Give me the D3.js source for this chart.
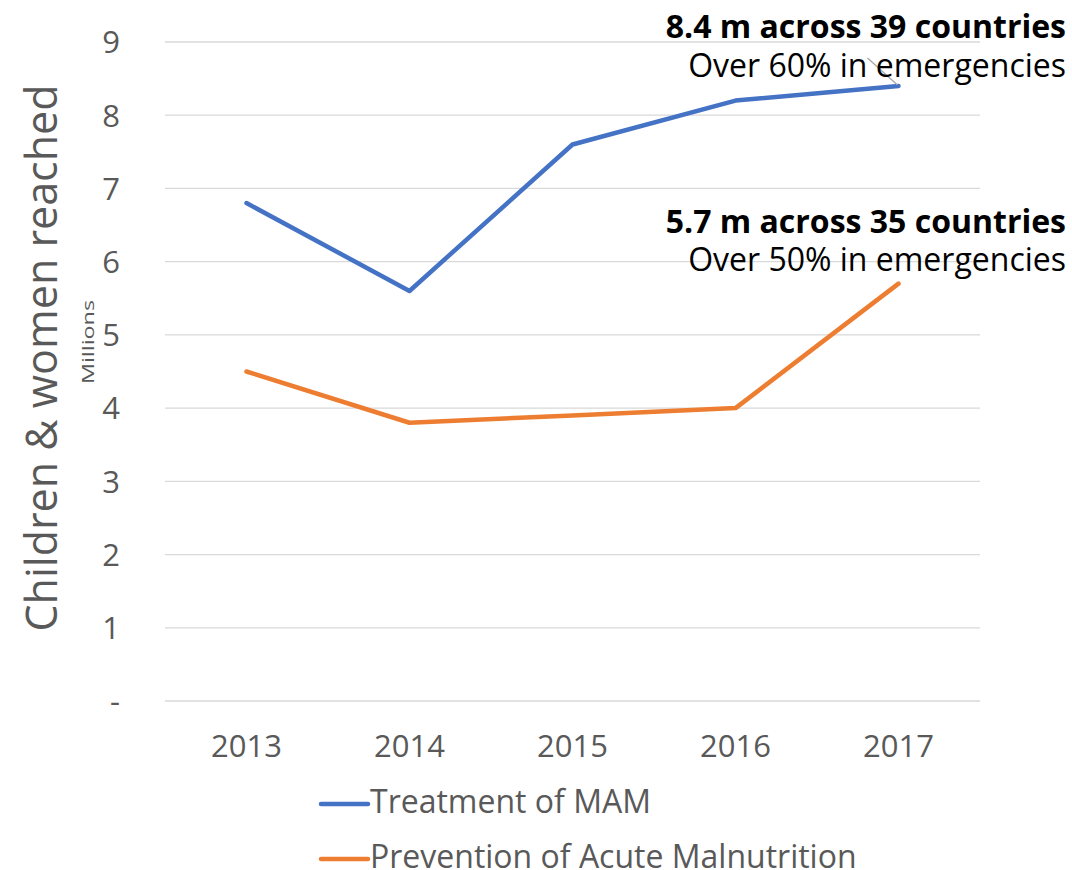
<!DOCTYPE html>
<html><head><meta charset="utf-8">
<script src="https://cdn.jsdelivr.net/npm/d3@7"></script>
<style>body{margin:0;background:#fff}svg{display:block;font-family:"Open Sans",sans-serif}</style>
</head><body><svg id="c" width="1072" height="870"></svg>
<script>
const years = ["2013","2014","2015","2016","2017"];
const treatmentMAM = [6.8, 5.6, 7.6, 8.2, 8.4];
const preventionAM = [4.5, 3.8, 3.9, 4.0, 5.7];
const yTicks = [0,1,2,3,4,5,6,7,8,9];
const seriesNames = ["Treatment of MAM","Prevention of Acute Malnutrition"];
const seriesColors = ["#4472C4","#ED7D31"];
const annotations = [
  {bold:"8.4 m across 39 countries", sub:"Over 60% in emergencies"},
  {bold:"5.7 m across 35 countries", sub:"Over 50% in emergencies"}
];

const svg = d3.select("#c");
const L=165, R=980, T=42, B=701;
const x = d3.scaleBand().domain(years).range([L,R]);
const y = d3.scaleLinear().domain([0,9]).range([B,T]);

// gridlines
svg.append("g").selectAll("line").data(yTicks).join("line")
  .attr("x1",L).attr("x2",R).attr("y1",d=>y(d)).attr("y2",d=>y(d))
  .attr("stroke","#d9d9d9").attr("stroke-width",1.3);

// y axis labels
const ya = svg.append("g").attr("transform",`translate(${L},0)`)
  .call(d3.axisLeft(y).tickValues(yTicks).tickSize(0).tickPadding(45).tickFormat(d=>d===0?"-":d));
ya.select(".domain").remove();
ya.selectAll("text").attr("font-size",31).attr("fill","#595959").attr("font-family","Open Sans").attr("dy","0.35em");

// x axis labels
const xa = svg.append("g").attr("transform",`translate(0,${B})`)
  .call(d3.axisBottom(x).tickSize(0));
xa.select(".domain").remove();
xa.selectAll("text").attr("font-size",31).attr("fill","#595959").attr("font-family","Open Sans")
  .attr("dy",null).attr("y",56);

// titles
svg.append("text").attr("transform","translate(57,358) rotate(-90)")
  .attr("text-anchor","middle").attr("font-size",43).attr("fill","#595959")
  .text("Children & women reached");
svg.append("text").attr("transform","translate(94,342) rotate(-90)")
  .attr("text-anchor","middle").attr("font-size",16).attr("fill","#595959")
  .attr("textLength",84).attr("lengthAdjust","spacingAndGlyphs")
  .text("Millions");

// lines
const line = d3.line().x((d,i)=>x(years[i])+x.bandwidth()/2).y(d=>y(d));
[treatmentMAM, preventionAM].forEach((s,i)=>{
  svg.append("path").attr("d",line(s)).attr("fill","none")
    .attr("stroke",seriesColors[i]).attr("stroke-width",4.5)
    .attr("stroke-linejoin","round").attr("stroke-linecap","round");
});

// leader line for first annotation
const lastX = x(years[4])+x.bandwidth()/2;
svg.append("line").attr("x1",lastX-31).attr("y1",y(treatmentMAM[4])-28)
  .attr("x2",lastX-1).attr("y2",y(treatmentMAM[4])-1)
  .attr("stroke","#a6a6a6").attr("stroke-width",1.3);

// annotations
const annY = [[38,77],[233,271]];
annotations.forEach((a,i)=>{
  svg.append("text").attr("x",1066).attr("y",annY[i][0]).attr("text-anchor","end")
    .attr("font-size",32).attr("font-weight","bold").attr("fill","#000").text(a.bold);
  svg.append("text").attr("x",1066).attr("y",annY[i][1]).attr("text-anchor","end")
    .attr("font-size",32).attr("fill","#000").text(a.sub);
});

// legend
const lg = svg.append("g");
seriesNames.forEach((n,i)=>{
  const yy = 804 + i*55;
  lg.append("line").attr("x1",321).attr("x2",368).attr("y1",yy).attr("y2",yy)
    .attr("stroke",seriesColors[i]).attr("stroke-width",4.5).attr("stroke-linecap","round");
  lg.append("text").attr("x",370).attr("y",yy+9).attr("font-size",32).attr("fill","#595959").text(n);
});
</script></body></html>
